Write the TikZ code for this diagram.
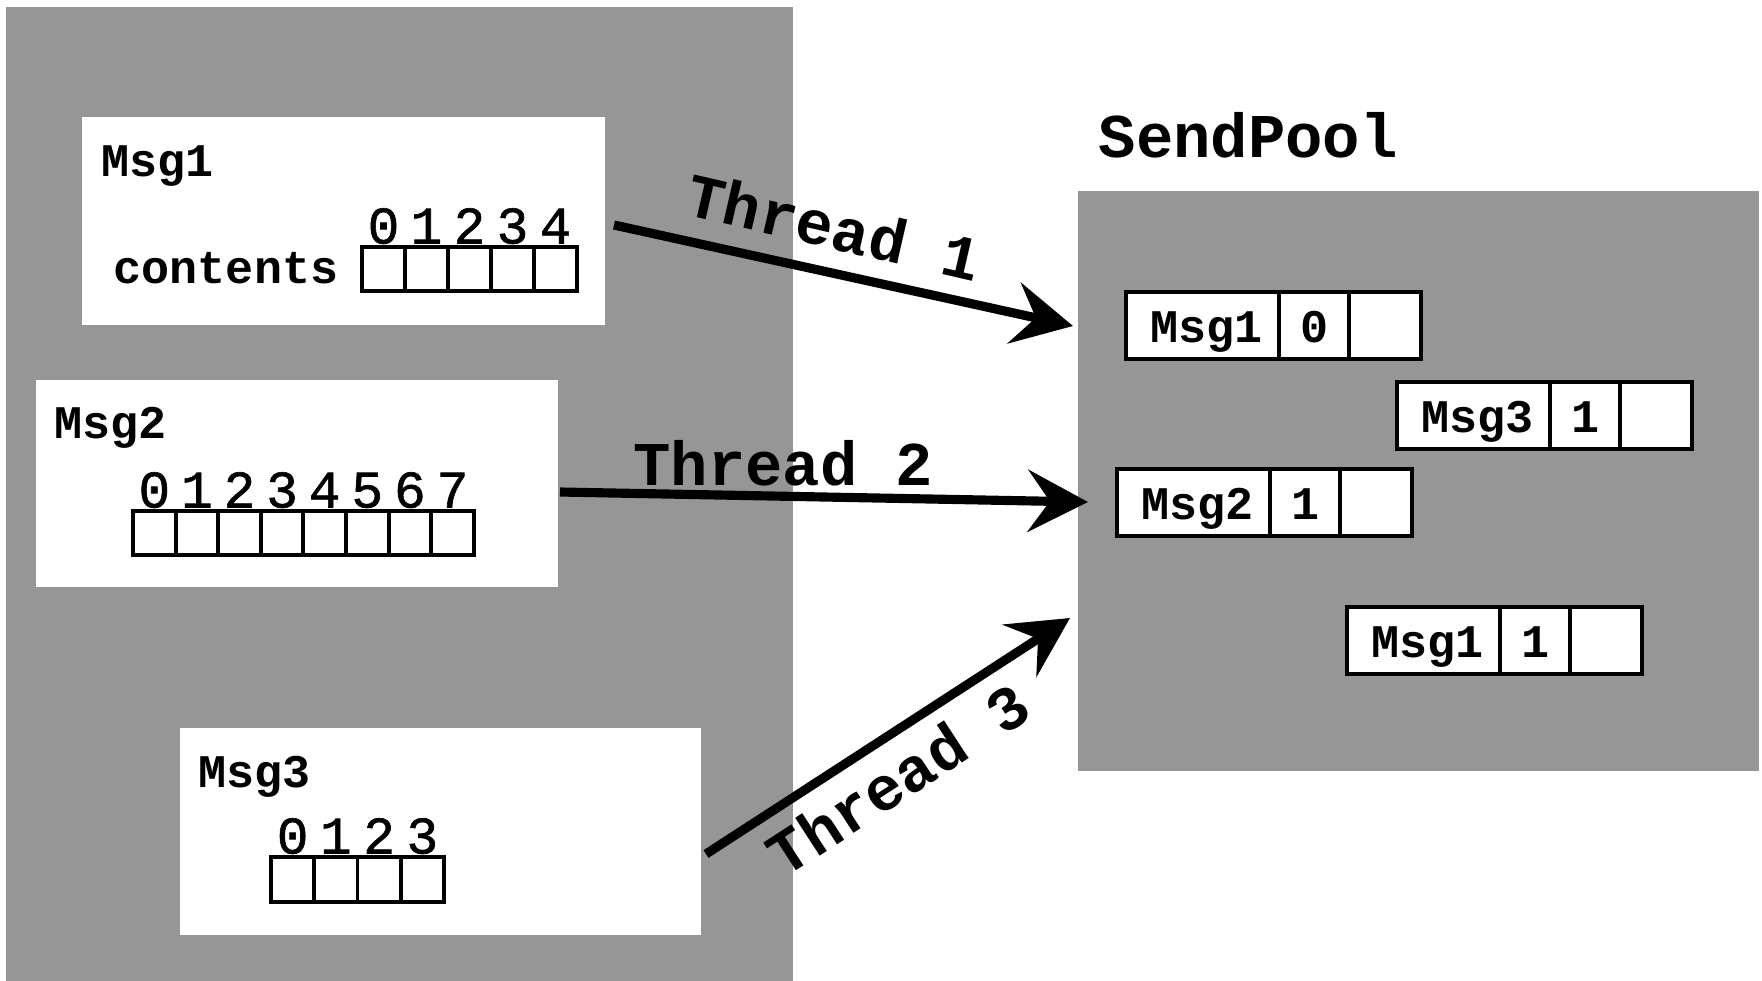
\documentclass[tikz,border=0pt]{standalone}
\usepackage{fontspec}
\newfontfamily\cour{Liberation Mono}
\newfontfamily\courmed[FakeBold=1.2]{Liberation Mono}
\usetikzlibrary{arrows.meta}
\definecolor{panelgray}{RGB}{150,150,150}
\begin{document}
\begin{tikzpicture}[x=0.01cm,y=-0.01cm,
  panel/.style={fill=panelgray,draw=none,anchor=north west,inner sep=0,outer sep=0},
  msgbox/.style={fill=white,draw=none,anchor=north west,inner sep=0,outer sep=0},
  cellbox/.style={draw=black,line width=1.1pt,fill=white,anchor=north west,inner sep=0,outer sep=0},
  lbl/.style={font=\cour\bfseries\fontsize{13.3}{16}\selectfont,inner sep=0,anchor=base west},
  idx/.style={font=\courmed\fontsize{15}{17}\selectfont,inner sep=0,anchor=base},
  title/.style={font=\cour\bfseries\fontsize{17.7}{20}\selectfont,inner sep=0,anchor=base},
  thread/.style={line width=2.6pt,-{Stealth[length=0.6cm,width=0.62cm,inset=0.22cm]}},
]
\useasboundingbox (0,0) rectangle (1762,981);
\fill[white] (0,0) rectangle (1762,981);
% panels
\node[panel,minimum width=7.87cm,minimum height=9.74cm] (src) at (6,7) {};
\node[panel,minimum width=6.81cm,minimum height=5.80cm] (pool) at (1078,191) {};
% message boxes
\node[msgbox,minimum width=5.23cm,minimum height=2.08cm] (m1) at (82,117) {};
\node[msgbox,minimum width=5.22cm,minimum height=2.07cm] (m2) at (36,380) {};
\node[msgbox,minimum width=5.21cm,minimum height=2.07cm] (m3) at (180,728) {};
\node[lbl] (m1l) at (101,176) {Msg1};
\node[lbl] (m1c) at (113,283) {contents};
\node[lbl] (m2l) at (54,438) {Msg2};
\node[lbl] (m3l) at (198,787) {Msg3};
% arrays
\foreach \i in {0,...,4} {
  \node[cellbox,minimum width=0.43cm,minimum height=0.44cm] (a1-\i) at ({362+43*\i},247) {};
  \node[idx] (d1-\i) at ([yshift=1pt]a1-\i.north) {\i};
}
\foreach \i in {0,...,7} {
  \node[cellbox,minimum width=0.426cm,minimum height=0.44cm] (a2-\i) at ({133+42.6*\i},511) {};
  \node[idx] (d2-\i) at ([yshift=1pt]a2-\i.north) {\i};
}
\foreach \i in {0,...,3} {
  \node[cellbox,minimum width=0.4325cm,minimum height=0.45cm] (a3-\i) at ({271+43.25*\i},857) {};
  \node[idx] (d3-\i) at ([yshift=1pt]a3-\i.north) {\i};
}
% pool entries
\foreach \n/\t/\d/\x/\y in {e1/Msg1/0/1126/292, e2/Msg3/1/1397/382, e3/Msg2/1/1117/469, e4/Msg1/1/1347/607} {
  \node[cellbox,minimum width=1.53cm,minimum height=0.67cm] (\n-a) at (\x,\y) {};
  \node[cellbox,minimum width=0.70cm,minimum height=0.67cm] (\n-b) at (\n-a.north east) {};
  \node[cellbox,minimum width=0.72cm,minimum height=0.67cm] (\n-c) at (\n-b.north east) {};
  \node[lbl,anchor=base] (\n-t) at ([xshift=1.2pt,yshift=-4.8pt]\n-a.center) {\t};
  \node[lbl,anchor=base] (\n-d) at ([yshift=-4.8pt]\n-b.center) {\d};
}
% titles
\node[title,anchor=base west] (sp) at (1098,157) {SendPool};
\node[title] (th2) at (783,485) {Thread 2};
\node[title,rotate=-13] (th1) at (829,248) {Thread 1};
\node[title,rotate=33] (th3) at (910,797) {Thread 3};
% arrows
\coordinate (t1s) at (614,225);
\coordinate (t1e) at (1073,326);
\coordinate (t2s) at (560,492);
\coordinate (t2e) at (1088,502);
\coordinate (t3s) at (706,854);
\coordinate (t3e) at (1070,618);
\draw[thread] (t1s) -- (t1e);
\draw[thread] (t2s) -- (t2e);
\draw[thread] (t3s) -- (t3e);
\end{tikzpicture}
\end{document}
